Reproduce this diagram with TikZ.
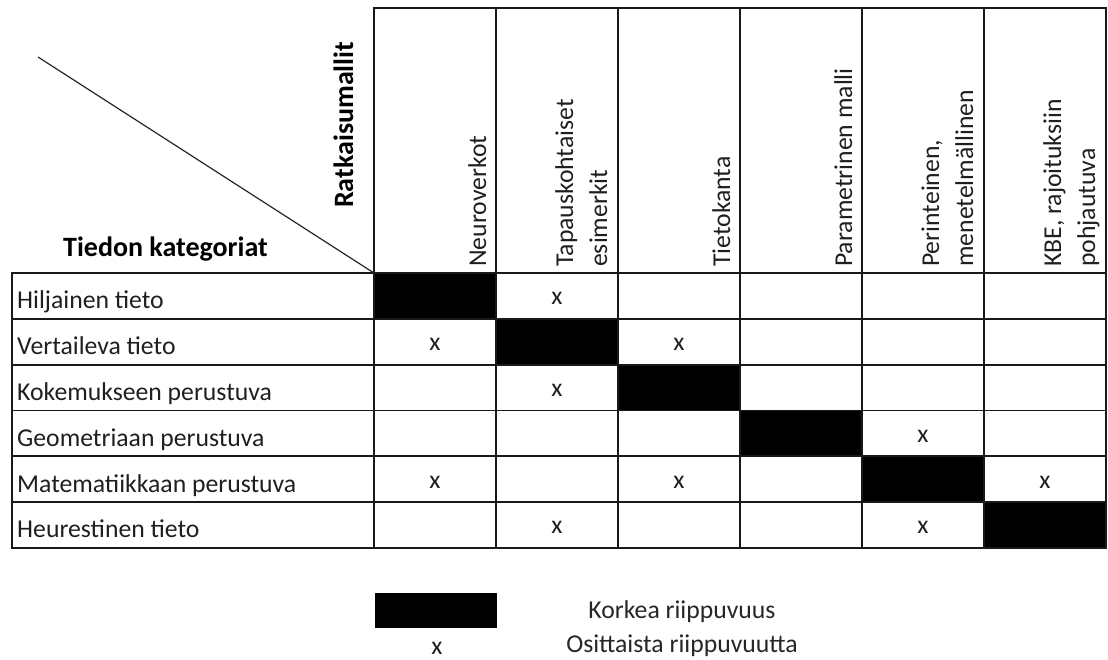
\documentclass[tikz,border=0pt]{standalone}
\usepackage{fontspec}
\setmainfont{Carlito}
\begin{document}
\begin{tikzpicture}[x=1pt,y=-1pt,
  grid/.style={line width=1.8pt, draw=black!90, line cap=rect},
  lbl/.style={inner sep=0pt, anchor=base west, text=black!88, font=\fontsize{25.7}{31}\selectfont},
  hdr/.style={lbl, rotate=90},
  boldlbl/.style={inner sep=0pt, anchor=base west, text=black, font=\fontsize{28}{33}\selectfont\bfseries},
  xmark/.style={inner sep=0pt, anchor=base, text=black!88, font=\fontsize{25.7}{31}\selectfont},
  legtext/.style={inner sep=0pt, anchor=base, text=black!85, font=\fontsize{25.7}{31}\selectfont}]
\useasboundingbox (0,0) rectangle (1108,659);

% strong dependencies along the diagonal
\foreach \i in {0,...,5}
  \fill (374+122*\i, 273+45.83*\i) rectangle (496+122*\i, 318.83+45.83*\i);

% table grid
\foreach \j in {0,...,6}
  \draw[grid] (12, 273+45.83*\j) -- (1106, 273+45.83*\j);
\draw[grid] (12,273) -- (12,548);
\draw[grid] (374,8) -- (1106,8);
\foreach \i in {0,...,6}
  \draw[grid] (374+122*\i, 8) -- (374+122*\i, 548);

% corner diagonal
\coordinate (d0) at (38,57);
\coordinate (d1) at (374,273);
\draw[line width=1.2pt, black!85] (d0) -- (d1);

\node[boldlbl, rotate=90] (ratk) at (353,208) {Ratkaisumallit};
\node[boldlbl] (kat) at (63,256) {Tiedon kategoriat};

% column headers
\node[hdr] (c1) at (486,267) {Neuroverkot};
\node[hdr] (c2a) at (573,267) {Tapauskohtaiset};
\node[hdr] (c2b) at (607,267) {esimerkit};
\node[hdr] (c3) at (730,267) {Tietokanta};
\node[hdr] (c4) at (852,267) {Parametrinen malli};
\node[hdr] (c5a) at (939,267) {Perinteinen,};
\node[hdr] (c5b) at (973,267) {menetelmällinen};
\node[hdr] (c6a) at (1061,267) {KBE, rajoituksiin};
\node[hdr] (c6b) at (1095,267) {pohjautuva};

% row labels
\foreach \t [count=\j] in {Hiljainen tieto, Vertaileva tieto, Kokemukseen perustuva,
    Geometriaan perustuva, Matematiikkaan perustuva, Heurestinen tieto}
  \node[lbl] (r\j) at (17, 273+45.83*\j-10) {\t};

% partial dependencies
\foreach \r/\c in {1/2, 2/1, 2/3, 3/2, 4/5, 5/1, 5/3, 5/6, 6/2, 6/5}
  \node[xmark] (x-\r-\c) at (313+122*\c, 227.17+45.83*\r+31.8) {x};

% legend
\fill (375,593) rectangle (497,628);
\node[xmark] (legx) at (437,654) {x};
\node[legtext] (leg1) at (682,618) {Korkea riippuvuus};
\node[legtext] (leg2) at (682,652) {Osittaista riippuvuutta};
\end{tikzpicture}
\end{document}
